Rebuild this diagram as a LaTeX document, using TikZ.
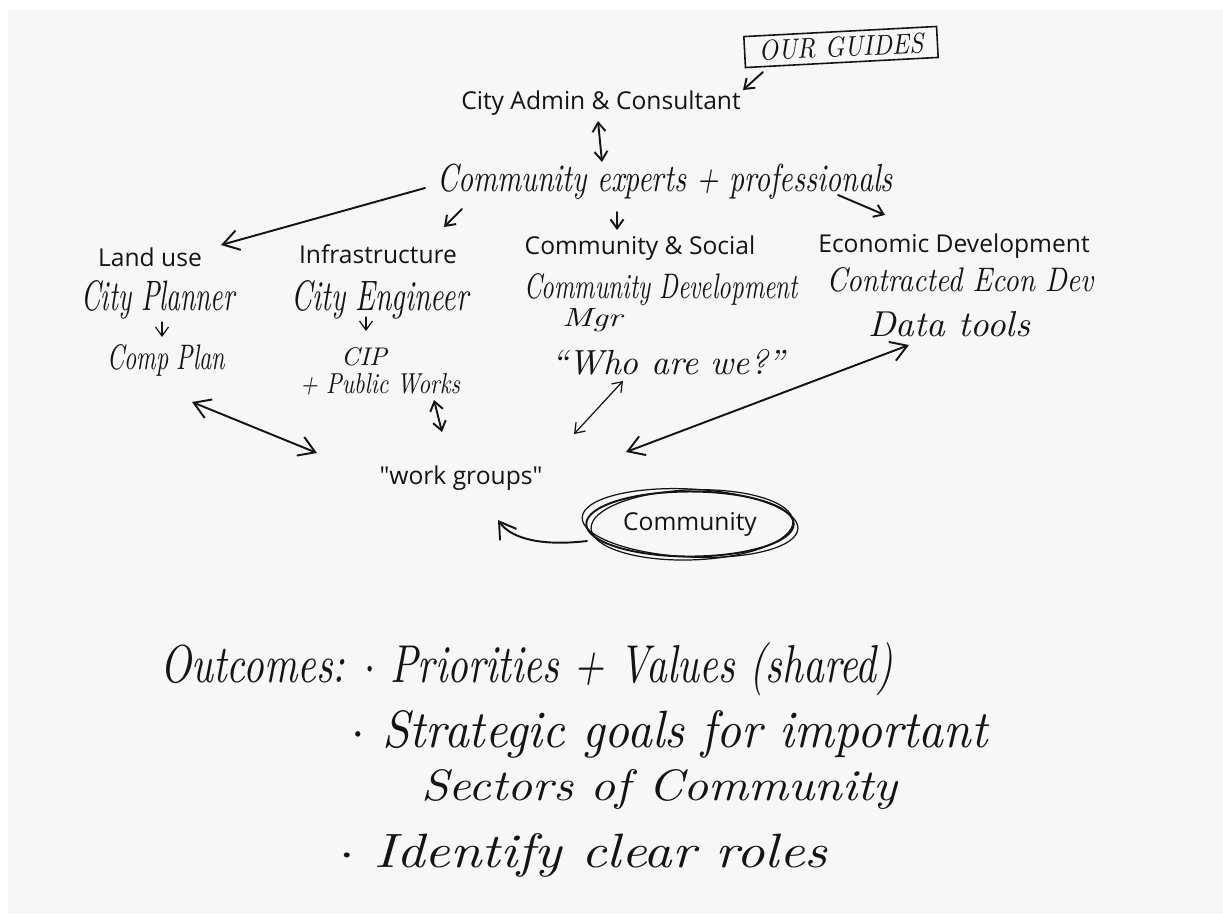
\documentclass[tikz,border=0pt]{standalone}
\usepackage{fontspec}
\usepackage{graphicx}
\setsansfont{Open Sans}
\usetikzlibrary{arrows.meta,shapes.geometric}
\definecolor{paper}{HTML}{F7F7F7}
\definecolor{ink}{HTML}{141414}
% #1 width (cm), #2 height above baseline (cm), #3 text
\newcommand{\hand}[3]{\resizebox{#1cm}{#2cm}{\rmfamily\itshape #3}}
\tikzset{
  printed/.style={font=\sffamily\fontsize{14}{16}\selectfont, text=ink, inner sep=0pt},
  hw/.style={inner sep=0pt, text=ink},
  pen/.style={draw=ink, line width=1.1pt, line cap=round, line join=round},
  thinpen/.style={draw=ink, line width=0.7pt, line cap=round, line join=round},
  bigtip/.style={-{Straight Barb[length=3.2mm,width=4mm]}},
  bigtips/.style={{Straight Barb[length=3.2mm,width=4mm]}-{Straight Barb[length=3.2mm,width=4mm]}},
  smalltip/.style={-{Straight Barb[length=1.8mm,width=2.6mm]}},
  smalltips/.style={{Straight Barb[length=1.8mm,width=2.6mm]}-{Straight Barb[length=1.8mm,width=2.6mm]}}
}
\begin{document}
\begin{tikzpicture}[x=0.02cm, y=-0.02cm]
% paper
\fill[white] (0,0) rectangle (1223,914);
\fill[paper] (8,10) rectangle (1223,914);
\useasboundingbox (0,0) rectangle (1223,914);

% printed labels
\node[printed] (city) at (601,103) {City Admin \& Consultant};
\node[printed] (landuse) at (150,257) {Land use};
\node[printed] (infra) at (378,254) {Infrastructure};
\node[printed] (commsoc) at (640,248) {Community \& Social};
\node[printed] (econ) at (954,246) {Economic Development};
\node[printed] (workgroups) at (461,478) {\textquotedbl work groups\textquotedbl};
\node[printed, ellipse, pen, minimum width=4.15cm, minimum height=1.3cm] (comm) at (690,524) {Community};
\draw[thinpen, rotate around={-3:(690,524)}] (690,523) ellipse [x radius=108, y radius=34];
\draw[thinpen, rotate around={2:(688,524)}] (692,525) ellipse [x radius=101, y radius=35];

% handwritten labels
\node[hw, draw=ink, line width=0.9pt, rotate=3, minimum width=3.86cm, minimum height=0.62cm] (guides) at (841,47) {\hand{3.3}{0.4}{OUR GUIDES}};
\node[hw] (experts) at (665,182) {\hand{9.12}{0.55}{Community experts + professionals}};
\node[hw] (planner) at (158,300) {\hand{3.06}{0.6}{City Planner}};
\node[hw] (compplan) at (166,360) {\hand{2.36}{0.5}{Comp Plan}};
\node[hw] (engineer) at (380,300) {\hand{3.54}{0.6}{City Engineer}};
\node[hw] (cip) at (364,357) {\hand{0.92}{0.36}{CIP}};
\node[hw] (works) at (380,384) {\hand{3.2}{0.4}{+ Public Works}};
\node[hw] (commdev) at (661,290) {\hand{5.48}{0.5}{Community Development}};
\node[hw] (mgr) at (592,320) {\hand{1.2}{0.36}{Mgr}};
\node[hw] (who) at (668,362) {\hand{4.68}{0.5}{``Who are we?''}};
\node[hw] (contracted) at (960,280) {\hand{5.34}{0.48}{Contracted Econ Dev}};
\node[hw] (data) at (949,324) {\hand{3.24}{0.5}{Data tools}};

\node[hw, anchor=base west] (out1) at (160,682) {\hand{14.66}{0.8}{Outcomes: $\cdot$ Priorities + Values (shared)}};
\node[hw, anchor=base west] (out2) at (351,747) {\hand{12.72}{0.74}{$\cdot$ Strategic goals for important}};
\node[hw, anchor=base west] (out3) at (421,800) {\hand{9.52}{0.62}{Sectors of Community}};
\node[hw, anchor=base west] (out4) at (339,867) {\hand{9.76}{0.68}{$\cdot$ Identify clear roles}};

% connectors
\draw[pen, smalltip] ([shift={(-78,25)}]guides.center) -- ([shift={(142,-13)}]city.center);
\draw[pen, smalltips] ([shift={(-3,18)}]city.center) -- ([shift={(-63,-20)}]experts.center);
\draw[pen, bigtip] ([shift={(-240,6)}]experts.center) -- ([shift={(71,-12)}]landuse.center);
\draw[pen, smalltip] ([shift={(-203,27)}]experts.center) -- ([shift={(66,-27)}]infra.center);
\draw[pen, smalltip] ([shift={(-48,30)}]experts.center) -- ([shift={(-23,-18)}]commsoc.center);
\draw[pen, smalltip] ([shift={(173,13)}]experts.center) -- ([shift={(-69,-31)}]econ.center);
\draw[thinpen, smalltip] ([shift={(4,22)}]planner.center) -- ([shift={(-4,-23)}]compplan.center);
\draw[thinpen, smalltip] ([shift={(-14,17)}]engineer.center) -- ([shift={(2,-26)}]cip.center);
\draw[pen, bigtips] ([shift={(26,42)}]compplan.center) -- ([shift={(-144,-25)}]workgroups.center);
\draw[pen, smalltips] ([shift={(54,16)}]works.center) -- ([shift={(-19,-46)}]workgroups.center);
\draw[thinpen, smalltips] ([shift={(-45,19)}]who.center) -- ([shift={(113,-44)}]workgroups.center);
\draw[pen, bigtips] ([shift={(-40,21)}]data.center) -- ([shift={(165,-26)}]workgroups.center);
\draw[pen, bigtip] ([shift={(-103,17)}]comm.center) .. controls (545,546) and (512,540) .. ([shift={(37,42)}]workgroups.center);
\end{tikzpicture}
\end{document}
